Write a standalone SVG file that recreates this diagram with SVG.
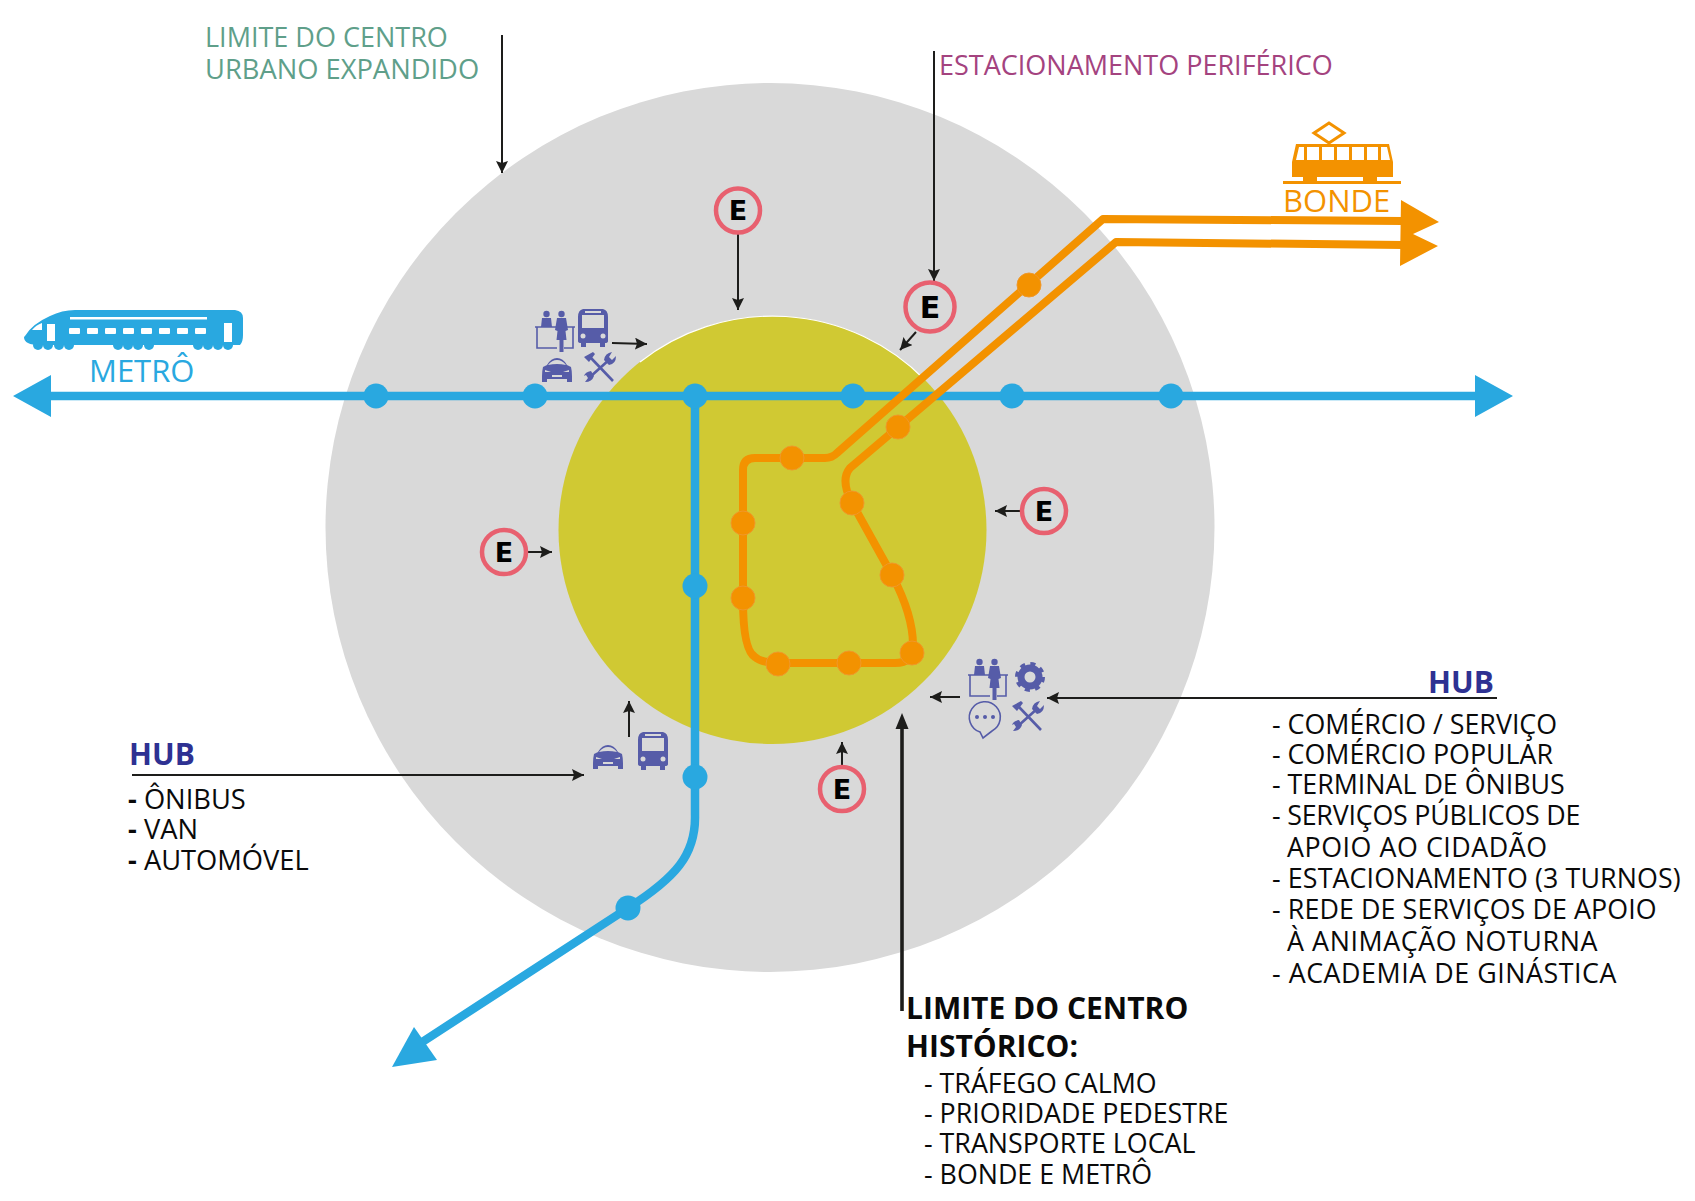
<svg xmlns="http://www.w3.org/2000/svg" width="1695" height="1201" viewBox="0 0 1695 1201">
<style>
text{font-family:"Open Sans","Noto Sans","Liberation Sans",sans-serif;font-size:26.8px}
.blk{fill:#0a0a0a}
.hub{fill:#2e3192;font-weight:700;font-size:30px}
.cap{fill:#0a0a0a;font-weight:700;font-size:30px}
.thin{stroke:#1d1d1b;stroke-width:2;fill:none;marker-end:url(#ah)}
.blue{stroke:#29a8e0;stroke-width:8.500;fill:none}
.or{stroke:#f39200;stroke-width:8;fill:none;stroke-linejoin:round}
.bd{fill:#29a8e0}
.od{fill:#f39200;stroke:#f0982a;stroke-width:1}
.eo{fill:none;stroke:#e8606f;stroke-width:4.5}
.et{font-family:"DejaVu Sans",sans-serif;font-weight:900;font-size:27px;text-anchor:middle;fill:#000}
.ic{fill:#565ca8}
.il{fill:none;stroke:#565ca8;stroke-width:1.6}
</style>
<defs>
<marker id="ah" markerUnits="userSpaceOnUse" markerWidth="14" markerHeight="14" refX="12" refY="6" orient="auto"><path d="M0 0L12 6L0 12L2 6Z" fill="#1d1d1b"/></marker>
<symbol id="bus" viewBox="0 0 30 38" overflow="visible"><path class="ic" d="M5 0H25Q30 1 30 8V32Q30 34 27 34V38H22V34H8V38H3V34Q0 34 0 32V8Q0 1 5 0Z"/><path fill="#d9d9d9" d="M4 6H26V19H4Z"/><rect x="7" y="2" width="16" height="2" fill="#d9d9d9"/><circle cx="5" cy="27" r="2.5" fill="#d9d9d9"/><circle cx="25" cy="27" r="2.5" fill="#d9d9d9"/></symbol>
<symbol id="car" viewBox="0 0 30 24" overflow="visible"><path class="ic" d="M1 9Q3 8 5 7Q9 0 15 0Q21 0 25 7Q27 8 29 9Q30 13 30 18V24H25V21H5V24H0V18Q0 13 1 9Z"/><path fill="#d9d9d9" d="M6 7Q10 2 15 2Q20 2 24 7Q15 5 6 7Z"/><path fill="#d9d9d9" d="M3 12L9 14H3ZM27 12L21 14H27ZM10 17H20V19H10Z"/></symbol>
<symbol id="tools" viewBox="0 0 32 30" overflow="visible"><path fill="none" stroke="#565ca8" stroke-width="2.6" d="M7 6L29 29M26 7L6 25"/><path class="ic" d="M0 5L9 0L11 2L5 10ZM20 8Q21 1 28 0L25 5L28 8L32 4Q32 12 25 13ZM0 24Q1 20 7 19L10 24Q8 30 1 30L4 26L2 23Z"/></symbol>
<symbol id="desk" viewBox="0 0 40 42" overflow="visible"><circle class="ic" cx="11.500" cy="4" r="3.2"/><circle class="ic" cx="26.500" cy="4" r="3.200"/><path class="ic" d="M7 8H16L17 17H6ZM22 8H31L33 20L30.500 21L31.500 30H28.500V42H24.500V30H21.500L22.500 21L20 20Z"/><path class="il" d="M2 17V38H22M29 38H38V17M0 17H22M30 17H40"/></symbol>
</defs>
<g id="outer-zone"><circle cx="770" cy="527.5" r="444.5" fill="#d9d9d9"/></g>
<g id="historic-zone"><circle cx="772.5" cy="530" r="214" fill="#d0c933"/><path d="M640 362A214 214 0 0 1 925 380" fill="none" stroke="#fff" stroke-width="1.2"/></g>
<g id="connectors">
<path class="blue" d="M45 396H1478"/>
<path fill="#29a8e0" d="M13 396L51 375V417ZM1513 396L1475 375V417Z"/>
<path class="blue" d="M695 396V815C696 855 675 878 628 908L410 1050"/>
<path fill="#29a8e0" d="M392 1067L414 1027L437 1060Z"/>
<path class="or" d="M1403 221L1103 219L837 453Q832 458 825 458H755Q743 458 743 470V600Q743 650 755 657Q762 663 778 663H895Q913 663 913 645Q913 615 892 575L852 503Q840 480 850 468L1116 242L1403 245"/>
<path fill="#f39200" d="M1401 200L1439 222L1413 234L1438 246L1400 266Z"/>
<path class="thin" d="M502 35V173"/>
<path class="thin" d="M934 51V281"/>
<path class="thin" d="M738 234V310"/>
<path class="thin" d="M916 332L900 350"/>
<path class="thin" d="M1021 511H995"/>
<path class="thin" d="M528 552H552"/>
<path class="thin" d="M842 765V742"/>
<path class="thin" d="M612 343L647 344"/>
<path class="thin" d="M629 737V701"/>
<path class="thin" d="M960 697H930"/>
<path class="thin" d="M1497 698H1047"/>
<path class="thin" d="M132 775H584"/>
<path fill="none" stroke="#1d1d1b" stroke-width="3.600" d="M902 1011V722"/>
<path fill="#1d1d1b" d="M902 713L908.500 729H895.500Z"/>
</g>
<g id="metro-stations">
<circle class="bd" cx="376" cy="396" r="12.5"/><circle class="bd" cx="535" cy="396" r="12.5"/><circle class="bd" cx="695" cy="396" r="12.5"/><circle class="bd" cx="853" cy="396" r="12.5"/><circle class="bd" cx="1012" cy="396" r="12.5"/><circle class="bd" cx="1171" cy="396" r="12.5"/><circle class="bd" cx="695" cy="586" r="12.5"/><circle class="bd" cx="695" cy="777" r="12.5"/><circle class="bd" cx="628" cy="908" r="12.5"/>
</g>
<g id="tram-stations">
<circle class="od" cx="1029" cy="285" r="12"/><circle class="od" cx="898" cy="427" r="12"/><circle class="od" cx="792" cy="458" r="12"/><circle class="od" cx="743" cy="523" r="12"/><circle class="od" cx="743" cy="598" r="12"/><circle class="od" cx="778" cy="664" r="12"/><circle class="od" cx="849" cy="663" r="12"/><circle class="od" cx="912" cy="653" r="12"/><circle class="od" cx="892" cy="575" r="12"/><circle class="od" cx="852" cy="503" r="12"/>
</g>
<g id="e1"><circle class="eo" cx="738" cy="210.500" r="22"/><text class="et" x="738" y="220">E</text></g>
<g id="e2"><circle class="eo" cx="930" cy="307" r="24.500"/><text class="et" x="930" y="318" style="font-size:30px">E</text></g>
<g id="e3"><circle class="eo" cx="1044" cy="511" r="22"/><text class="et" x="1044" y="521">E</text></g>
<g id="e4"><circle class="eo" cx="504" cy="552" r="22"/><text class="et" x="504" y="562">E</text></g>
<g id="e5"><circle class="eo" cx="842" cy="789" r="22"/><text class="et" x="842" y="799">E</text></g>
<g id="hub-nw">
<use href="#desk" x="535" y="310" width="40" height="42"/><use href="#bus" x="578" y="309" width="30" height="38"/><use href="#car" x="542" y="358" width="30" height="24"/><use href="#tools" x="584" y="352" width="32" height="30"/>
</g>
<g id="hub-sw">
<use href="#car" x="593" y="745" width="30" height="24"/><use href="#bus" x="638" y="732" width="30" height="38"/>
</g>
<g id="hub-se">
<use href="#desk" x="968" y="658" width="40" height="42"/>
<circle cx="1030" cy="677" r="9" fill="none" stroke="#565ca8" stroke-width="7"/>
<circle cx="1030" cy="677" r="13" fill="none" stroke="#565ca8" stroke-width="4" stroke-dasharray="5 5.2"/>
<path class="il" d="M992 731A15.500 15.500 0 1 0 980 732L983 738Z"/>
<circle class="ic" cx="977" cy="717" r="2"/><circle class="ic" cx="985" cy="717" r="2"/><circle class="ic" cx="993" cy="717" r="2"/>
<use href="#tools" x="1012" y="701" width="32" height="30"/>
</g>
<g id="metro-train">
<path class="bd" d="M25 336Q32 324 50 316Q62 310 75 310H235Q243 311 243 318V335Q243 342 240 345H40Q24 345 24 337Z"/>
<g class="bd"><circle cx="38" cy="345" r="5"/><circle cx="48" cy="345" r="5"/><circle cx="59" cy="345" r="5"/><circle cx="69" cy="345" r="5"/><circle cx="118" cy="345" r="5"/><circle cx="128" cy="345" r="5"/><circle cx="138" cy="345" r="5"/><circle cx="149" cy="345" r="5"/><circle cx="198" cy="345" r="5"/><circle cx="208" cy="345" r="5"/><circle cx="218" cy="345" r="5"/><circle cx="228" cy="345" r="5"/></g>
<g fill="#fff"><rect x="70" y="317" width="137" height="2.500"/><rect x="69" y="328" width="11" height="6" rx="1"/><rect x="87" y="328" width="11" height="6" rx="1"/><rect x="105" y="328" width="11" height="6" rx="1"/><rect x="123" y="328" width="11" height="6" rx="1"/><rect x="141" y="328" width="11" height="6" rx="1"/><rect x="159" y="328" width="11" height="6" rx="1"/><rect x="177" y="328" width="11" height="6" rx="1"/><rect x="195" y="328" width="11" height="6" rx="1"/><rect x="47" y="324" width="8" height="17"/><rect x="224" y="323" width="8" height="19"/><path d="M32 330Q36 325 42 323V330Z"/></g>
</g>
<g id="tram">
<path d="M1314 133L1329 123L1344 133L1329 143Z" fill="none" stroke="#f39200" stroke-width="3"/>
<path fill="#f39200" d="M1328 143h2v3h-2zM1296 144H1389L1393 162V177H1292V162ZM1283 181H1401V184H1283ZM1303 177h14v4h-14zM1363 177h14v4h-14z"/>
<g fill="#fff"><path d="M1299 147H1304V160H1296ZM1307 147h12v13h-12zM1322 147h12v13h-12zM1337 147h12v13h-12zM1352 147h12v13h-12zM1367 147h11v13h-11zM1381 147h6l3 13h-9z"/></g>
</g>
<g id="labels">
<text x="205" y="47" fill="#5f9f8a" style="font-size:27px">LIMITE DO CENTRO</text>
<text x="205" y="79" fill="#5f9f8a" style="font-size:27.300px">URBANO EXPANDIDO</text>
<text x="939" y="75" fill="#a4437f" style="font-size:27px">ESTACIONAMENTO PERIFÉRICO</text>
<text x="89" y="382" fill="#29a8e0" style="font-size:31px">METRÔ</text>
<text x="1283" y="212" fill="#f39200" style="font-size:31px">BONDE</text>
<text class="hub" x="129" y="765">HUB</text>
<text class="blk" x="128" y="809" style="font-size:27.300px"><tspan font-weight="700">-</tspan> ÔNIBUS</text><text class="blk" x="128" y="839" style="font-size:27.300px"><tspan font-weight="700">-</tspan> VAN</text><text class="blk" x="128" y="870" style="font-size:27.300px"><tspan font-weight="700">-</tspan> AUTOMÓVEL</text>
<text class="hub" x="1428" y="693">HUB</text>
<text class="blk" x="1272" y="734">- COMÉRCIO / SERVIÇO</text>
<text class="blk" x="1272" y="764">- COMÉRCIO POPULAR</text>
<text class="blk" x="1272" y="794">- TERMINAL DE ÔNIBUS</text>
<text class="blk" x="1272" y="825" letter-spacing="-.2">- SERVIÇOS PÚBLICOS DE</text>
<text class="blk" x="1287" y="857" letter-spacing=".55">APOIO AO CIDADÃO</text>
<text class="blk" x="1272" y="888" letter-spacing=".12">- ESTACIONAMENTO (3 TURNOS)</text>
<text class="blk" x="1272" y="919" letter-spacing=".1">- REDE DE SERVIÇOS DE APOIO</text>
<text class="blk" x="1287" y="951" letter-spacing=".6">À ANIMAÇÃO NOTURNA</text>
<text class="blk" x="1272" y="983" letter-spacing=".55">- ACADEMIA DE GINÁSTICA</text>
<text class="cap" x="906" y="1019">LIMITE DO CENTRO</text>
<text class="cap" x="906" y="1057">HISTÓRICO:</text>
<text class="blk" x="924" y="1093">- TRÁFEGO CALMO</text>
<text class="blk" x="924" y="1123">- PRIORIDADE PEDESTRE</text>
<text class="blk" x="924" y="1153">- TRANSPORTE LOCAL</text>
<text class="blk" x="924" y="1184">- BONDE E METRÔ</text>
</g>
</svg>
